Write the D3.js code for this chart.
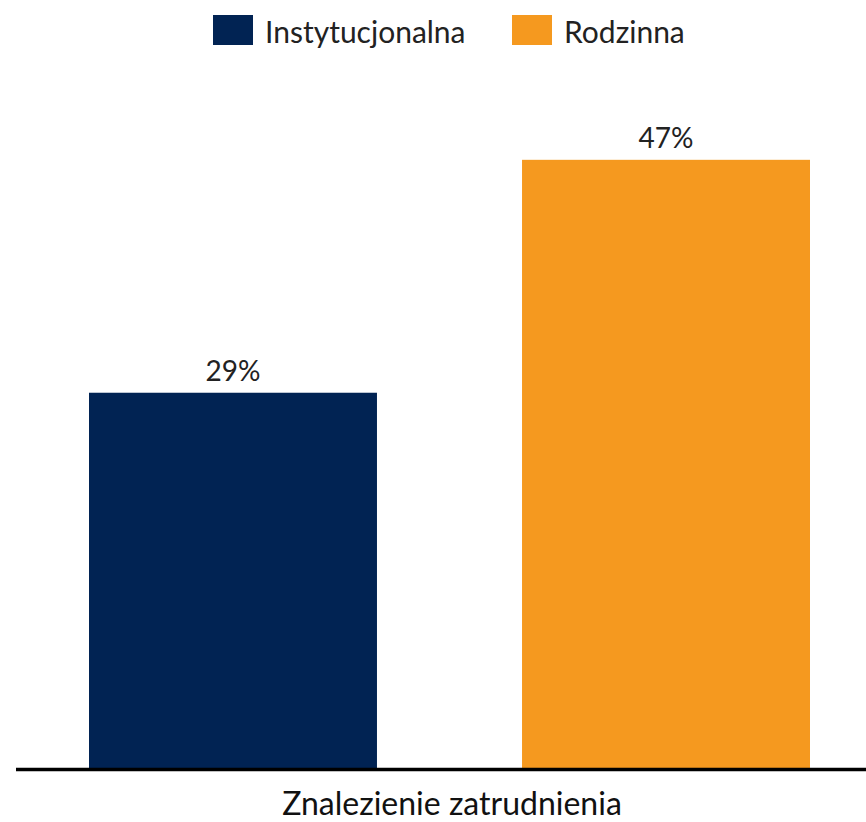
<!DOCTYPE html>
<html>
<head>
<meta charset="utf-8">
<script src="https://cdn.jsdelivr.net/npm/d3@7"></script>
<style>
  html, body { margin: 0; padding: 0; background: #fff; }
  svg { display: block; font-family: Lato, "Open Sans", sans-serif; }
</style>
</head>
<body>
<div id="chart"></div>
<script>
// chart data
const series = ["Instytucjonalna", "Rodzinna"];
const values = [29, 47];
const colors = ["#012353", "#F5991F"];
const category = "Znalezienie zatrudnienia";

const width = 866, height = 822;
const baseY = 768;

const svg = d3.select("#chart").append("svg")
  .attr("width", width)
  .attr("height", height);

const x = d3.scaleBand()
  .domain(series)
  .range([89, 810])
  .paddingInner(0.335)
  .paddingOuter(0);

const y = d3.scaleLinear()
  .domain([0, 50])
  .range([baseY, baseY - 50 * 12.94]);

// bars
svg.append("g").selectAll("rect")
  .data(series)
  .join("rect")
  .attr("x", d => x(d))
  .attr("y", (d, i) => y(values[i]))
  .attr("width", x.bandwidth())
  .attr("height", (d, i) => y(0) - y(values[i]))
  .attr("fill", (d, i) => colors[i]);

// value labels
svg.append("g").selectAll("text")
  .data(series)
  .join("text")
  .attr("x", d => x(d) + x.bandwidth() / 2)
  .attr("y", (d, i) => y(values[i]) - 12)
  .attr("text-anchor", "middle")
  .attr("font-size", 28)
  .attr("fill", "#222")
  .text((d, i) => values[i] + "%");

// baseline
svg.append("line")
  .attr("x1", 16).attr("x2", width)
  .attr("y1", baseY + 1.5).attr("y2", baseY + 1.5)
  .attr("stroke", "#000")
  .attr("stroke-width", 3.5);

// category label
svg.append("text")
  .attr("x", 452)
  .attr("y", 815)
  .attr("text-anchor", "middle")
  .attr("font-size", 32)
  .attr("fill", "#111")
  .text(category);

// legend
const legendX = [213, 512];
const legend = svg.append("g").selectAll("g")
  .data(series)
  .join("g")
  .attr("transform", (d, i) => `translate(${legendX[i]},15)`);

legend.append("rect")
  .attr("width", 40)
  .attr("height", 30)
  .attr("fill", (d, i) => colors[i]);

legend.append("text")
  .attr("x", 52)
  .attr("y", 28)
  .attr("font-size", 30)
  .attr("fill", "#222")
  .text(d => d);
</script>
</body>
</html>
